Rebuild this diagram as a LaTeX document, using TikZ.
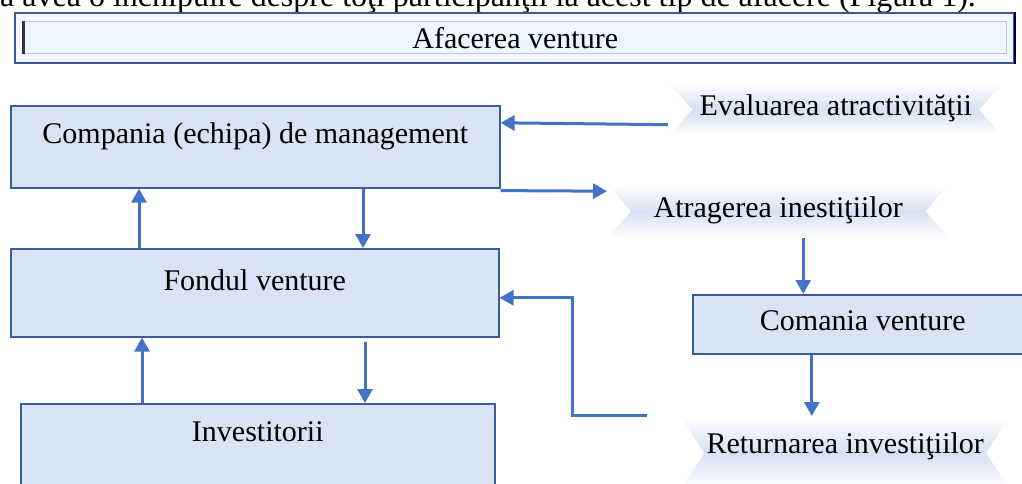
\documentclass[tikz,border=0pt]{standalone}
\usepackage{fontspec}
\setmainfont{Liberation Serif}
\usetikzlibrary{arrows.meta,calc}

\definecolor{boxfill}{HTML}{DAE3F3}
\definecolor{boxline}{HTML}{3A5E9C}
\definecolor{arrowblue}{HTML}{4472C4}
\definecolor{glowblue}{HTML}{D6E1F4}
\definecolor{bannerline}{HTML}{3B5998}
\definecolor{bannerfill}{HTML}{F4F8FE}
\definecolor{bannerinner}{HTML}{EDF5FE}

\begin{document}
\begin{tikzpicture}[x=1pt,y=-1pt,
  every node/.style={font=\fontsize{30}{36}\selectfont},
  blockbox/.style={draw=boxline, fill=boxfill, line width=1.6pt, inner sep=0pt, anchor=north west},
  glowlabel/.style={inner sep=0pt, anchor=north west,
    path picture={\shade[top color=white, bottom color=white, middle color=glowblue]
      (path picture bounding box.north west) -- ([xshift=24pt]path picture bounding box.west)
      -- (path picture bounding box.south west) -- (path picture bounding box.south east)
      -- ([xshift=-24pt]path picture bounding box.east) -- (path picture bounding box.north east) -- cycle;}},
  arr/.style={draw=arrowblue, line width=3pt, -{Triangle[length=14pt,width=15pt]}},
]
\useasboundingbox (0,0) rectangle (1022,484);

% running text above the figure
\node[anchor=base west, inner sep=0pt, font=\fontsize{32}{36}\selectfont] (intro) at (0,7)
  {a avea o închipuire despre toţi participanţii la acest tip de afacere (Figura 1).};

% title banner
\node[draw=bannerline, line width=1.8pt, fill=bannerfill, inner sep=0pt,
      minimum width=999pt, minimum height=50pt, anchor=north west] (banner) at (14,12) {};
\node[draw=gray!45, line width=1.4pt, fill=bannerinner, inner sep=0pt,
      minimum width=983pt, minimum height=32pt, anchor=north west,
      font=\fontsize{30}{32}\selectfont] (title) at (23,21) {Afacerea venture};
\draw[black!80, line width=3pt] (title.north west) -- (title.south west);
\draw[black!75!blue, line width=2.2pt] (banner.north east) -- (banner.south east);

% left column
\node[blockbox, minimum width=489pt, text height=38pt, text depth=44pt] (comp) at (10,105)
  {Compania (echipa) de management};
\node[blockbox, minimum width=488pt, text height=42pt, text depth=46pt] (fond) at (10,248)
  {Fondul venture};
\node[blockbox, minimum width=474pt, text height=38pt, text depth=62pt] (inv) at (20,403)
  {Investitorii};

% right column
\node[glowlabel, minimum width=335pt, text height=33pt, text depth=22pt] (eval) at (668,82)
  {Evaluarea atractivităţii};
\node[glowlabel, minimum width=342pt, text height=33pt, text depth=21pt] (atrag) at (607,184)
  {Atragerea inestiţiilor};
\node[blockbox, minimum width=340pt, text height=36pt, text depth=23pt] (coman) at (692,294)
  {Comania venture};
\node[glowlabel, minimum width=330pt, text height=37pt, text depth=37pt] (retur) at (680,416)
  {Returnarea investiţiilor};

% connectors between the left boxes
\draw[arr] ([xshift=129pt]fond.north west) -- ([xshift=129pt]comp.south west);
\draw[arr] ([xshift=353pt]comp.south west) -- ([xshift=353pt]fond.north west);
\draw[arr] ([xshift=122pt]inv.north west) -- ([xshift=132pt]fond.south west);
\draw[arr] ([xshift=355pt,yshift=-4pt]fond.south west) -- ([xshift=345pt]inv.north west);

% connectors on the right
\draw[arr] ([yshift=-15pt]eval.west) -- ([yshift=24pt]comp.east);
\draw[arr] ([yshift=-2pt]comp.south east) -- ([yshift=20pt]atrag.west);
\draw[arr] ([xshift=25pt]atrag.south) -- ([xshift=25pt]atrag.south |- coman.north);
\draw[arr] ([xshift=-51pt]coman.south) -- ([xshift=-51pt]coman.south |- retur.north);
\coordinate (rs) at ([xshift=-33pt,yshift=38pt]retur.west);
\draw[arr] (rs) -- ++(-75,0) |- ([yshift=-5pt]fond.east);
\end{tikzpicture}
\end{document}
